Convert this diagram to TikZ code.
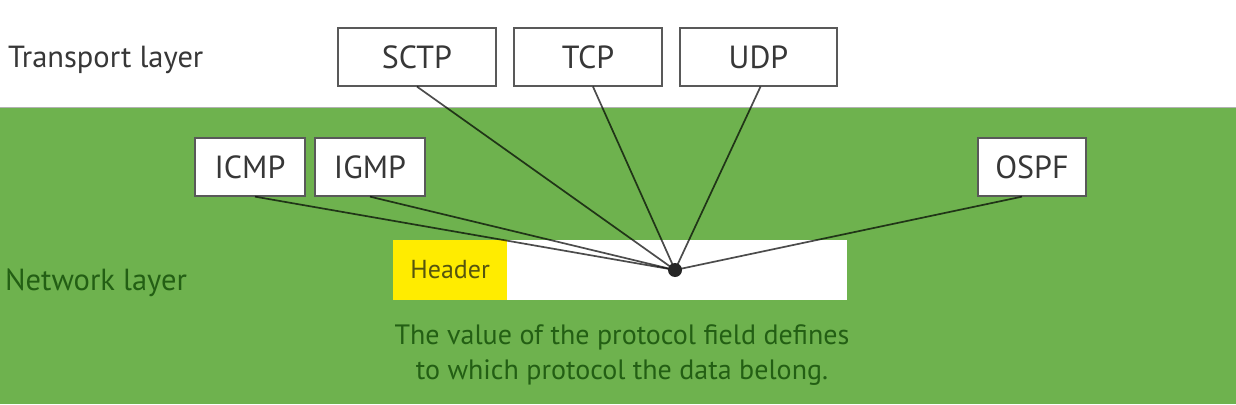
\documentclass[tikz,border=0pt]{standalone}
\usepackage{fontspec}
\setmainfont{PT Sans}
\definecolor{bggreen}{RGB}{110,178,78}
\definecolor{boxtext}{RGB}{55,55,55}
\definecolor{darkgreen}{RGB}{35,95,20}
\definecolor{hdryellow}{RGB}{255,236,0}
\definecolor{hdrtext}{RGB}{85,85,15}
\begin{document}
\begin{tikzpicture}[x=1pt,y=-1pt,
  proto/.style={draw=gray!70!black, line width=1.3pt, fill=white, minimum width=#1, minimum height=58pt, inner sep=0pt, font=\fontsize{32}{36}\selectfont, text=boxtext},
  link/.style={draw=black, draw opacity=0.7, line width=1.7pt},
  layerlbl/.style={anchor=west, inner sep=0pt, font=\fontsize{30.5}{34}\selectfont}]
\useasboundingbox (0,0) rectangle (1236,404);
\fill[white] (0,0) rectangle (1236,107);
\fill[bggreen] (0,107) rectangle (1236,404);
\draw[gray!60, line width=1pt] (0,107) -- (1236,107);
\node[layerlbl, text=boxtext] (tl) at (8,60) {Transport layer};
\node[layerlbl, text=darkgreen] (nl) at (5,283) {Network layer};
\node[proto=158pt] (sctp) at (417,57) {SCTP};
\node[proto=148pt] (tcp) at (588,57) {TCP};
\node[proto=157pt] (udp) at (758.5,57) {UDP};
\node[proto=110pt] (icmp) at (250,167) {ICMP};
\node[proto=110pt] (igmp) at (370,167) {IGMP};
\node[proto=108pt] (ospf) at (1032,167) {OSPF};
\node[fill=hdryellow, minimum width=114pt, minimum height=60pt, inner sep=0pt, anchor=west, font=\fontsize{26}{30}\selectfont, text=hdrtext] (hdr) at (393,270) {Header};
\node[fill=white, minimum width=340pt, minimum height=60pt, inner sep=0pt, anchor=west] (data) at (507,270) {};
\coordinate (pf) at (675,270);
\draw[link] (sctp.south) -- (pf);
\draw[link] ([xshift=5pt]tcp.south) -- (pf);
\draw[link] ([xshift=2pt]udp.south) -- (pf);
\draw[link] ([xshift=5pt]icmp.south) -- (pf);
\draw[link] (igmp.south) -- (pf);
\draw[link] ([xshift=-10pt]ospf.south) -- (pf);
\fill[black!85] (pf) circle (7pt);
\node[align=center, text=darkgreen, font=\fontsize{28}{35}\selectfont, inner sep=0pt] (cap) at (622,355) {The value of the protocol field defines\\to which protocol the data belong.};
\end{tikzpicture}
\end{document}
